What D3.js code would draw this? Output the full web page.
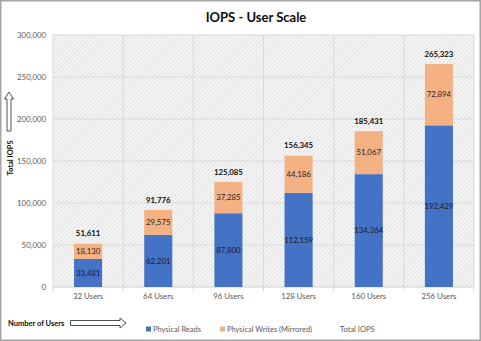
<!DOCTYPE html>
<html><head><meta charset="utf-8">
<script src="https://cdn.jsdelivr.net/npm/d3@7/dist/d3.min.js"></script>
<style>
html,body{margin:0;padding:0;background:#fff;}
svg{display:block;font-family:Lato,"Open Sans",sans-serif;}
</style></head>
<body>
<svg id="c" width="481" height="341"></svg>
<script>
const categories = ["32 Users","64 Users","96 Users","128 Users","160 Users","256 Users"];
const physicalReads = [33481, 62201, 87800, 112159, 134364, 192429];
const physicalWrites = [18130, 29575, 37285, 44186, 51067, 72894];
const totalIOPS = [51611, 91776, 125085, 156345, 185431, 265323];
const yTicks = [0, 50000, 100000, 150000, 200000, 250000, 300000];
const seriesNames = ["Physical Reads", "Physical Writes (Mirrored)", "Total IOPS"];
const colors = {reads: "#4472C4", writes: "#F4B183"};

const svg = d3.select("#c");
const W = 481, H = 341;
const m = {left: 53, right: 474, top: 35, bottom: 287};

// outer border
svg.append("rect").attr("x", 0.75).attr("y", 0.75).attr("width", W - 1.5).attr("height", H - 1.5)
  .attr("fill", "#fff").attr("stroke", "#a6a6a6").attr("stroke-width", 1.5);

// hatch pattern
const defs = svg.append("defs");
const pat = defs.append("pattern").attr("id", "hatch").attr("patternUnits", "userSpaceOnUse")
  .attr("width", 3).attr("height", 3).attr("patternTransform", "rotate(45)");
pat.append("rect").attr("width", 3).attr("height", 3).attr("fill", "#f5f5f5");
pat.append("line").attr("x1", 0).attr("y1", 0).attr("x2", 0).attr("y2", 3)
  .attr("stroke", "#d6d6d6").attr("stroke-width", 1.2);

const x = d3.scaleBand().domain(categories).range([m.left, m.right]).padding(0);
const y = d3.scaleLinear().domain([0, 300000]).range([m.bottom, m.top]);

svg.append("rect").attr("x", m.left).attr("y", m.top).attr("width", m.right - m.left)
  .attr("height", m.bottom - m.top).attr("fill", "url(#hatch)");

// horizontal gridlines
svg.append("g").selectAll("line").data(yTicks.slice(1)).join("line")
  .attr("x1", m.left).attr("x2", m.right).attr("y1", d => y(d)).attr("y2", d => y(d))
  .attr("stroke", "#d9d9d9").attr("stroke-width", 1);
// vertical gridlines
const bounds = categories.map(c => x(c)).concat([m.right]);
svg.append("g").selectAll("line").data(bounds).join("line")
  .attr("x1", d => d).attr("x2", d => d).attr("y1", m.top).attr("y2", m.bottom + 4)
  .attr("stroke", "#d9d9d9").attr("stroke-width", 1);
// x axis line
svg.append("line").attr("x1", m.left).attr("x2", m.right).attr("y1", m.bottom).attr("y2", m.bottom)
  .attr("stroke", "#d0d0d0").attr("stroke-width", 1);

// y axis labels
const yAxis = d3.axisLeft(y).tickValues(yTicks).tickFormat(d3.format(",")).tickSize(0).tickPadding(7);
const ya = svg.append("g").attr("transform", `translate(${m.left},0)`).call(yAxis);
ya.select(".domain").remove();
ya.selectAll("text").attr("font-size", 7.8).attr("fill", "#595959").attr("font-family", "Lato,sans-serif");

// x axis labels
const xAxis = d3.axisBottom(x).tickSize(0).tickPadding(6);
const xa = svg.append("g").attr("transform", `translate(0,${m.bottom})`).call(xAxis);
xa.select(".domain").remove();
xa.selectAll("text").attr("font-size", 7.8).attr("fill", "#595959").attr("font-family", "Lato,sans-serif");

// bars
const bw = x.bandwidth() * 0.4;
const bx = c => x(c) + (x.bandwidth() - bw) / 2;
const g = svg.append("g");
categories.forEach((c, i) => {
  const r = physicalReads[i], w = physicalWrites[i], t = totalIOPS[i];
  g.append("rect").attr("x", bx(c)).attr("width", bw).attr("y", y(r)).attr("height", y(0) - y(r)).attr("fill", colors.reads);
  g.append("rect").attr("x", bx(c)).attr("width", bw).attr("y", y(r + w)).attr("height", y(r) - y(r + w)).attr("fill", colors.writes);
  const cx = x(c) + x.bandwidth() / 2;
  g.append("text").attr("x", cx).attr("y", (y(0) + y(r)) / 2).attr("dy", "0.35em").attr("text-anchor", "middle")
    .attr("font-size", 7.8).attr("fill", "#1a1a2e").text(d3.format(",")(r));
  g.append("text").attr("x", cx).attr("y", (y(r) + y(r + w)) / 2).attr("dy", "0.35em").attr("text-anchor", "middle")
    .attr("font-size", 7.8).attr("fill", "#262626").text(d3.format(",")(w));
  g.append("text").attr("x", cx).attr("y", y(t) - 10).attr("dy", "0.35em").attr("text-anchor", "middle")
    .attr("font-size", 7.8).attr("font-weight", "bold").attr("fill", "#0d0d0d").text(d3.format(",")(t));
});

// title
svg.append("text").attr("x", 256).attr("y", 17).attr("dy", "0.35em").attr("text-anchor", "middle")
  .attr("font-size", 13).attr("font-weight", "bold").attr("fill", "#0d0d0d").text("IOPS - User Scale");

// y axis title + up arrow
svg.append("text").attr("transform", "translate(10,158) rotate(-90)").attr("dy", "0.35em")
  .attr("text-anchor", "middle").attr("font-size", 7.5).attr("font-weight", "bold").attr("fill", "#0d0d0d").text("Total IOPS");
svg.append("path").attr("d", "M7,131 L7,99 L4.5,99 L9,92 L13.5,99 L11,99 L11,131 Z")
  .attr("fill", "#fff").attr("stroke", "#262626").attr("stroke-width", 0.8);

// x axis title + right arrow
svg.append("text").attr("x", 8).attr("y", 323).attr("dy", "0.35em")
  .attr("font-size", 7.5).attr("font-weight", "bold").attr("fill", "#0d0d0d").text("Number of Users");
svg.append("path").attr("d", "M70.5,320.5 L120,320.5 L120,318 L126,323 L120,328 L120,325.5 L70.5,325.5 Z")
  .attr("fill", "#fff").attr("stroke", "#262626").attr("stroke-width", 0.8);

// legend
const leg = svg.append("g");
const legItems = [
  {name: seriesNames[0], color: colors.reads, x: 146},
  {name: seriesNames[1], color: colors.writes, x: 220},
  {name: seriesNames[2], color: null, x: 338}
];
legItems.forEach(d => {
  if (d.color) leg.append("rect").attr("x", d.x).attr("y", 326.5).attr("width", 5).attr("height", 5).attr("fill", d.color);
  leg.append("text").attr("x", d.x + (d.color ? 7 : 2)).attr("y", 329).attr("dy", "0.35em")
    .attr("font-size", 7.5).attr("fill", "#595959").text(d.name);
});
</script>
</body></html>
